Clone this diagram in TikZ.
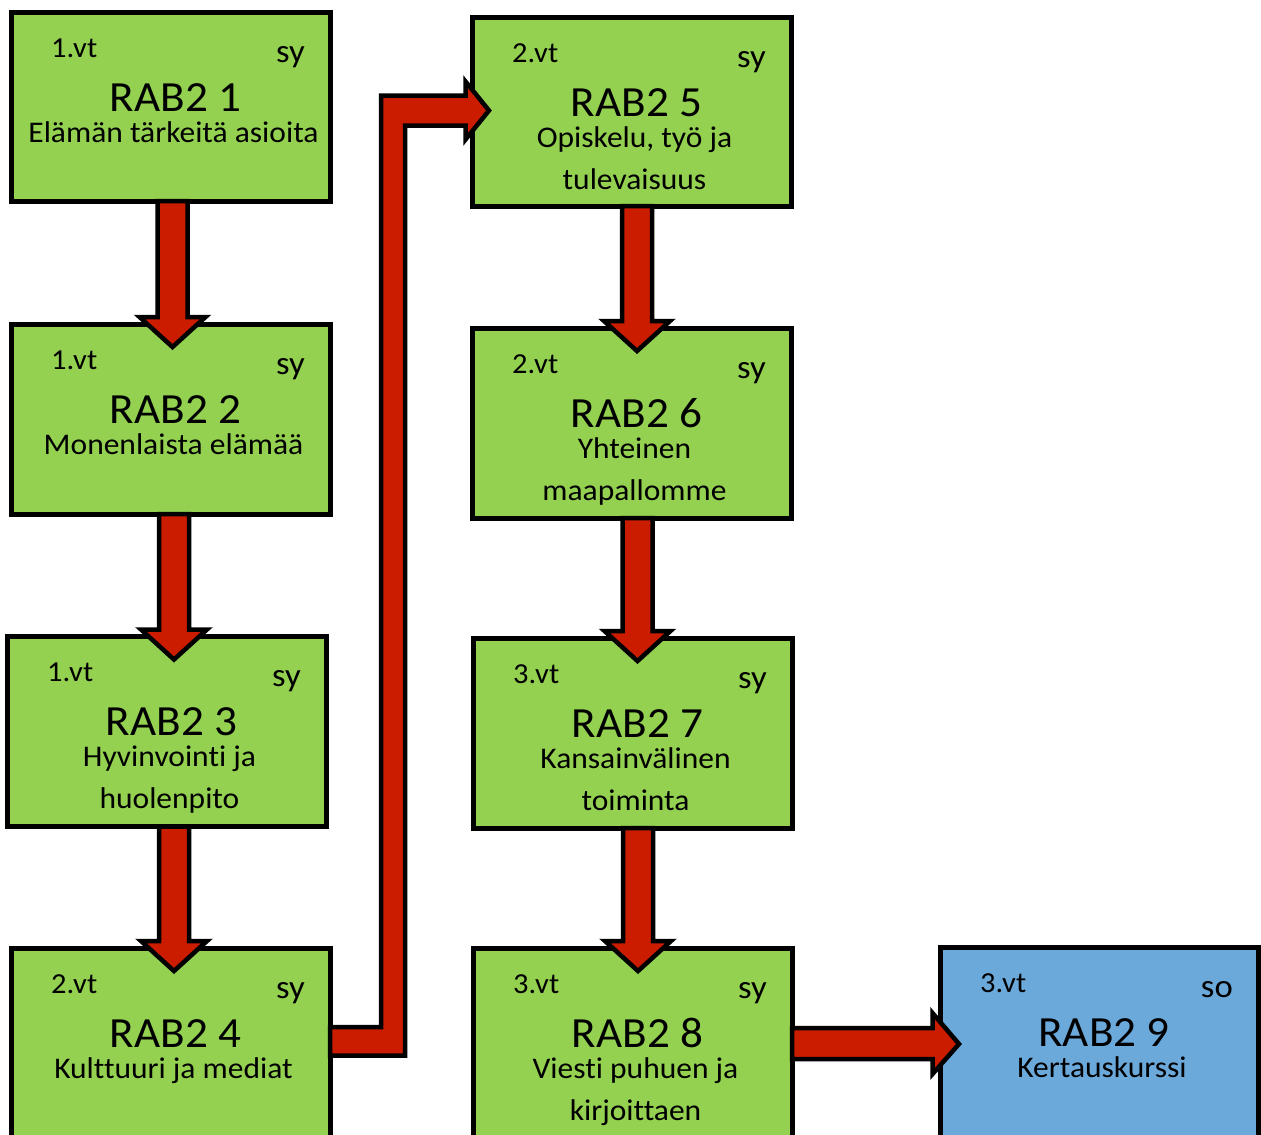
\documentclass[tikz,border=0pt]{standalone}
\usepackage{fontspec}
\setmainfont{Carlito}[FakeStretch=1.05, Ligatures=NoCommon]
\usetikzlibrary{calc}
\definecolor{boxgreen}{RGB}{148,209,80}
\definecolor{boxblue}{RGB}{108,169,219}
\definecolor{arrred}{RGB}{204,28,0}
\tikzset{
  cbox/.style={draw=black, line width=5pt, fill=boxgreen, inner sep=0pt, outer sep=0pt,
    minimum width=319pt, minimum height=190pt},
  bluebox/.style={cbox, fill=boxblue},
  barrow/.style={draw=black, line width=4.5pt, fill=arrred, line join=miter},
  vtlbl/.style={inner sep=0pt, font=\fontsize{29}{29}\selectfont},
  taglbl/.style={inner sep=0pt, font=\fontsize{33}{33}\selectfont},
  ttllbl/.style={inner sep=0pt, font=\fontsize{43}{43}\selectfont},
  sublbl/.style={inner sep=0pt, font=\fontsize{30}{30}\selectfont},
}
\newcommand\boxtexts[5]{%
  \node[vtlbl, anchor=base west] (#1-vt) at ($(#1.north west)+(40,45)$) {#2};
  \node[taglbl, anchor=base east] (#1-tag) at ($(#1.north east)+(-25,50)$) {#3};
  \node[ttllbl, anchor=base] (#1-ttl) at ($(#1.north)+(5,99)$) {#4};
  \node[sublbl, anchor=base] (#1-s1) at ($(#1.north)+(3,130)$) {#5};
}
\newcommand\secondline[2]{%
  \node[sublbl, anchor=base] (#1-s2) at ($(#1.north)+(3,172)$) {#2};
}
% vertical block arrow: from box, to box, x offset from source centre
\newcommand\downarr[3]{%
  \coordinate (#1#2s) at ($(#1.south)+(#3,0)$);
  \coordinate (#1#2t) at (#1#2s |- #2.north);
  \draw[barrow] ($(#1#2s)+(-15,0)$) -- ($(#1#2t)+(-15,-7)$) -- ($(#1#2t)+(-33,-7)$)
    -- ($(#1#2t)+(0,23)$) -- ($(#1#2t)+(33,-7)$) -- ($(#1#2t)+(15,-7)$)
    -- ($(#1#2s)+(15,0)$) -- cycle;
}
\begin{document}
\begin{tikzpicture}[x=1pt,y=-1pt]
\useasboundingbox (0,0) rectangle (1261,1135);
\clip (0,0) rectangle (1261,1135);
\fill[white] (0,0) rectangle (1261,1135);

% boxes
\node[cbox, minimum height=189pt] (b1) at (170.5,106.5) {};
\node[cbox] (b2) at (170.5,419) {};
\node[cbox] (b3) at (166.5,731.5) {};
\node[cbox] (b4) at (170.5,1043) {};
\node[cbox, minimum height=189pt] (b5) at (631.5,111.5) {};
\node[cbox] (b6) at (631.5,423) {};
\node[cbox] (b7) at (632.5,733) {};
\node[cbox] (b8) at (632.5,1043) {};
\node[bluebox, minimum width=318pt] (b9) at (1099,1042) {};

% texts
\boxtexts{b1}{1.vt}{sy}{RAB2 1}{Elämän tärkeitä asioita}
\boxtexts{b2}{1.vt}{sy}{RAB2 2}{Monenlaista elämää}
\boxtexts{b3}{1.vt}{sy}{RAB2 3}{Hyvinvointi ja}
\secondline{b3}{huolenpito}
\boxtexts{b4}{2.vt}{sy}{RAB2 4}{Kulttuuri ja mediat}
\boxtexts{b5}{2.vt}{sy}{RAB2 5}{Opiskelu, työ ja}
\secondline{b5}{tulevaisuus}
\boxtexts{b6}{2.vt}{sy}{RAB2 6}{Yhteinen}
\secondline{b6}{maapallomme}
\boxtexts{b7}{3.vt}{sy}{RAB2 7}{Kansainvälinen}
\secondline{b7}{toiminta}
\boxtexts{b8}{3.vt}{sy}{RAB2 8}{Viesti puhuen ja}
\secondline{b8}{kirjoittaen}
\boxtexts{b9}{3.vt}{so}{RAB2 9}{Kertauskurssi}

% vertical arrows
\downarr{b1}{b2}{2}
\downarr{b2}{b3}{3.5}
\downarr{b3}{b4}{7.5}
\downarr{b5}{b6}{5.5}
\downarr{b6}{b7}{6}
\downarr{b7}{b8}{5.5}

% bent arrow b4 -> b5
\coordinate (c45a) at (b4.east);
\coordinate (c45b) at (b5.west);
\draw[barrow] ($(c45a)+(0,12.5)$) -- ($(c45a)+(75,12.5)$)
  -- ($(c45a |- c45b)+(75,14)$) -- ($(c45b)+(-6.5,14)$) -- ($(c45b)+(-6.5,28)$)
  -- ($(c45b)+(17,-1)$) -- ($(c45b)+(-6.5,-30)$) -- ($(c45b)+(-6.5,-16)$)
  -- ($(c45a |- c45b)+(51,-16)$) -- ($(c45a)+(51,-16)$) -- ($(c45a)+(0,-16)$) -- cycle;

% horizontal arrow b8 -> b9
\coordinate (c89a) at (b8.east);
\coordinate (c89b) at (c89a -| b9.west);
\draw[barrow] ($(c89a)+(0,-15)$) -- ($(c89b)+(-7.5,-15)$) -- ($(c89b)+(-7.5,-30)$)
  -- ($(c89b)+(19,1)$) -- ($(c89b)+(-7.5,31)$) -- ($(c89b)+(-7.5,16)$)
  -- ($(c89a)+(0,16)$) -- cycle;
\end{tikzpicture}
\end{document}
